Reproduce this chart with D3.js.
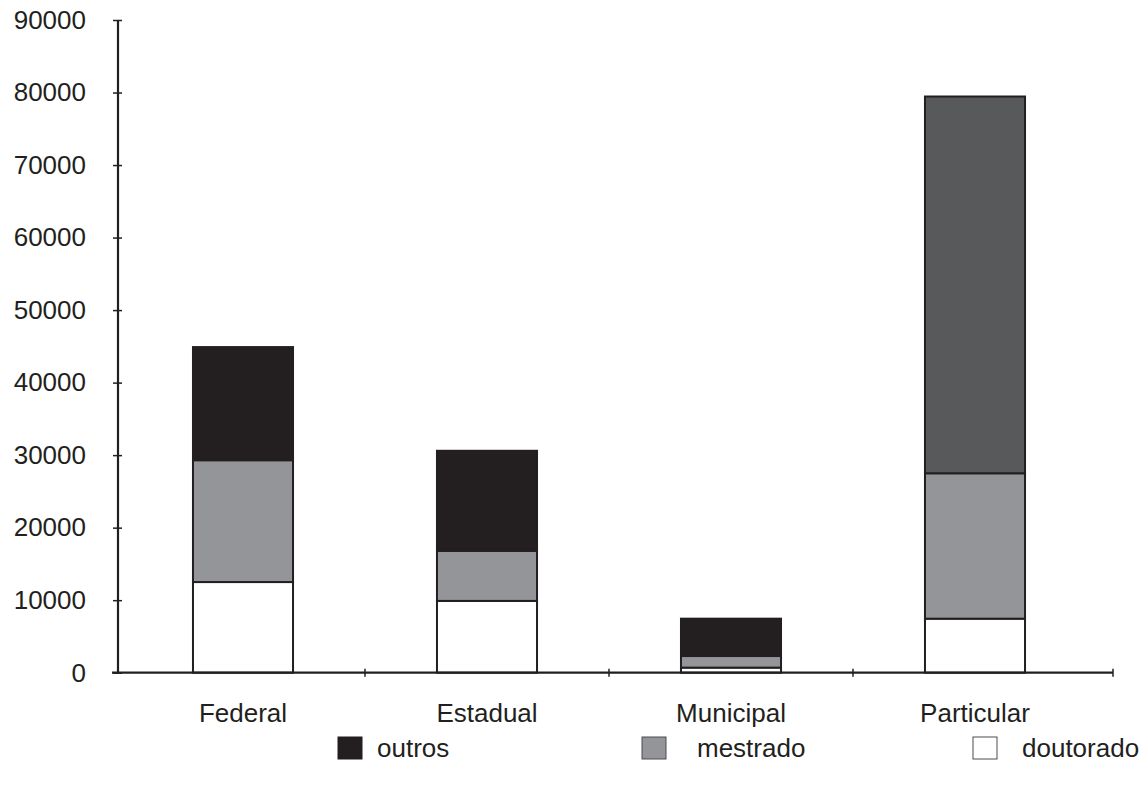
<!DOCTYPE html>
<html>
<head>
<meta charset="utf-8">
<script src="https://cdn.jsdelivr.net/npm/d3@7"></script>
<style>
  body { margin: 0; background: #fff; }
  text { font-family: "Liberation Sans", Arial, sans-serif; fill: #231f20; }
</style>
</head>
<body>
<div id="chart"></div>
<script>
// data
const categories = ['Federal', 'Estadual', 'Municipal', 'Particular']
const doutorado = [12500, 9900, 700, 7450]
const mestrado = [16800, 6900, 1600, 20050]
const outros = [15600, 13800, 5150, 51950]
const seriesNames = ['outros', 'mestrado', 'doutorado']
const yTicks = [0, 10000, 20000, 30000, 40000, 50000, 60000, 70000, 80000, 90000]

const width = 1147
const height = 785
const ink = '#231f20'
const colors = { outros: '#231f20', mestrado: '#939598', doutorado: '#ffffff' }

const rows = categories.map((c, i) => ({ cat: c, doutorado: doutorado[i], mestrado: mestrado[i], outros: outros[i] }))
// stacked bottom-up: doutorado, mestrado, outros
const stack = d3.stack().keys(['doutorado', 'mestrado', 'outros'])(rows)

const x = d3.scaleBand().domain(categories).range([121, 1097])
const y = d3.scaleLinear().domain([0, 90000]).range([672.7, 20])
const barW = x.bandwidth() * 0.41
const axisLeftX = 118
const axisRightX = 1113

const svg = d3.select('#chart').append('svg').attr('width', width).attr('height', height)

// bars
svg.append('g')
    .selectAll('g')
    .data(stack)
    .join('g')
    .selectAll('rect')
    .data(s => s.map(d => ({ key: s.key, d: d })))
    .join('rect')
    .attr('x', o => x(o.d.data.cat) + (x.bandwidth() - barW) / 2)
    .attr('y', o => y(o.d[1]))
    .attr('width', barW)
    .attr('height', o => y(o.d[0]) - y(o.d[1]))
    .attr('fill', o => (o.key === 'outros' && o.d.data.cat === 'Particular') ? '#58595b' : colors[o.key])
    .attr('stroke', ink)
    .attr('stroke-width', 2)

// y axis
const yAxis = svg.append('g')
    .attr('transform', `translate(${axisLeftX},0)`)
    .call(d3.axisLeft(y).tickValues(yTicks).tickFormat(d3.format('d')).tickSize(4).tickPadding(32))
yAxis.select('.domain').attr('stroke', ink).attr('stroke-width', 2.2).attr('d', `M0,${y(90000)}V${y(0)}`)
yAxis.selectAll('.tick line').attr('stroke', ink).attr('stroke-width', 1.5).attr('x1', 4).attr('x2', -5)
yAxis.selectAll('.tick text').attr('font-size', 26).attr('font-family', '"Liberation Sans", Arial, sans-serif').attr('fill', ink).attr('x', -32)

// x axis with ticks between categories and at the end
const bounds = categories.slice(1).map(c => x(c) - x.step() * x.paddingInner() / 2).concat([axisRightX])
const xg = svg.append('g')
xg.append('line')
    .attr('x1', axisLeftX - 6).attr('x2', axisRightX)
    .attr('y1', y(0)).attr('y2', y(0))
    .attr('stroke', ink).attr('stroke-width', 2.2)
xg.selectAll('line.tk')
    .data(bounds)
    .join('line')
    .attr('class', 'tk')
    .attr('x1', d => d).attr('x2', d => d)
    .attr('y1', y(0) - 4).attr('y2', y(0) + 4)
    .attr('stroke', ink).attr('stroke-width', 1.5)
xg.selectAll('text')
    .data(categories)
    .join('text')
    .attr('x', d => x(d) + x.bandwidth() / 2)
    .attr('y', 722)
    .attr('text-anchor', 'middle')
    .attr('font-size', 26)
    .text(d => d)

// legend
const legX = { outros: 338, mestrado: 642, doutorado: 973 }
const legTextGap = { outros: 39, mestrado: 55, doutorado: 49 }
const leg = svg.append('g')
    .selectAll('g')
    .data(seriesNames)
    .join('g')
    .attr('transform', d => `translate(${legX[d]},737)`)
leg.append('rect')
    .attr('width', 24).attr('height', 22)
    .attr('fill', d => colors[d])
    .attr('stroke', d => d === 'outros' ? ink : '#4d4d4f')
    .attr('stroke-width', 1)
leg.append('text')
    .attr('x', d => legTextGap[d])
    .attr('y', 20)
    .attr('font-size', 26)
    .text(d => d)
</script>
</body>
</html>
